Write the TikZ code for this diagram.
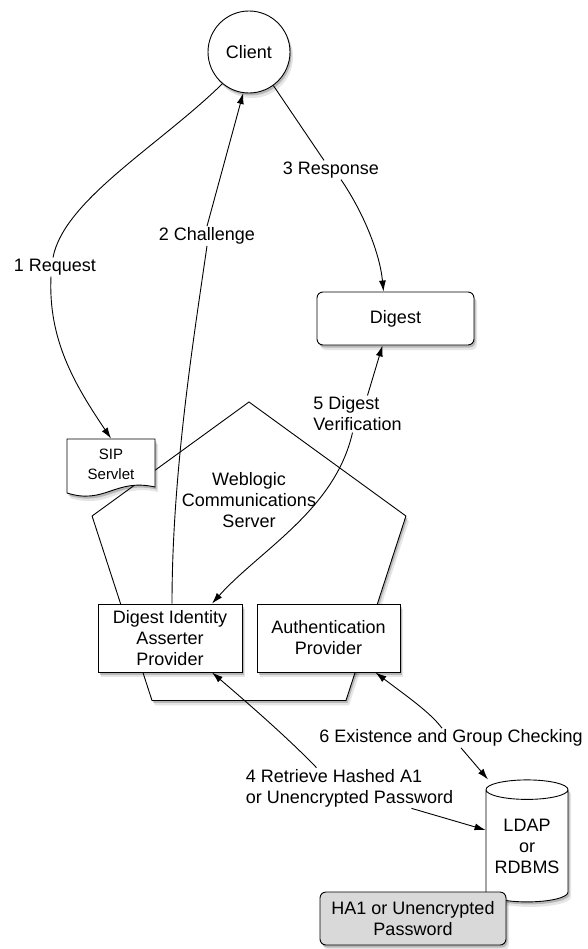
\documentclass[tikz,border=0pt]{standalone}
\usepackage{fontspec}
\setmainfont{Liberation Sans}
\usetikzlibrary{shapes.geometric,shadows,arrows.meta}

\begin{document}
\begin{tikzpicture}[x=1pt,y=-1pt,
    font=\fontsize{18}{21}\selectfont,
    line width=0.9pt,
    >={Latex[length=11pt,width=7pt]},
    dshadow/.style={general shadow={shadow xshift=1.5pt,shadow yshift=-2.5pt,fill=black,opacity=0.2},
                    general shadow={shadow xshift=3pt,shadow yshift=-5pt,fill=black,opacity=0.1}},
    box/.style={draw,fill=white,dshadow,minimum width=144pt,minimum height=68pt,align=center,inner sep=0pt},
    lbl/.style={inner sep=1pt}]
    \useasboundingbox (0,0) rectangle (587,949);

    \node[regular polygon,regular polygon sides=5,minimum size=330pt,draw,fill=white,dshadow,inner sep=0pt] (wlcs) at (249,567) {};
    \node[align=center] (wlcstext) at (249,500) {Weblogic\\Communications\\Server};

    \draw[fill=white,dshadow] (67,439) -- (155,439) -- (155,487) .. controls (115,478) and (105,505) .. (67,493) -- cycle;
    \node[font=\fontsize{15}{20}\selectfont,align=center,minimum width=88pt,minimum height=50pt] (sip) at (111,464) {SIP\\Servlet};

    \node[box] (asserter) at (170,638) {Digest Identity\\Asserter\\Provider};
    \node[box,minimum width=143pt] (authn) at (328.5,638) {Authentication\\Provider};

    \node[circle,draw,fill=white,dshadow,minimum size=82pt,inner sep=0pt] (client) at (249,52) {Client};
    \node[draw,rounded corners=6pt,fill=white,dshadow,minimum width=157pt,minimum height=53pt] (digest) at (395.5,318.5) {Digest};

    \node[cylinder,shape border rotate=90,aspect=0.3,draw,fill=white,dshadow,minimum width=82pt,minimum height=122pt,align=center,inner sep=0pt] (ldap) at (527,846) {LDAP\\or\\RDBMS};
    \node[draw,rounded corners=6pt,fill=gray!30,dshadow,minimum width=186pt,minimum height=53pt,align=center] (ha1) at (413,918.5) {HA1 or Unencrypted\\Password};

    \node[lbl] (req) at (55,267) {1 Request};
    \node[lbl] (chal) at (207,236) {2 Challenge};
    \node[lbl] (resp) at (331,170) {3 Response};
    \node[lbl,align=left] (verif) at (357.5,414) {5 Digest\\Verification};
    \node[lbl,align=left] (retr) at (349.5,788) {4 Retrieve Hashed A1\\or Unencrypted Password};
    \node[lbl] (exist) at (451,738) {6 Existence and Group Checking};

    \draw (client.230) .. controls (160,145) and (64,200) .. ([xshift=-2pt]req.north);
    \draw[->] ([xshift=-4pt]req.south) .. controls (48,340) and (75,385) .. (sip.north);

    \draw ([xshift=2pt]asserter.north) .. controls (172,470) and (195,330) .. (chal.south);
    \draw[->] (chal.north) -- (client.262);

    \draw (client.306) -- ([xshift=-7pt]resp.north);
    \draw[->] ([xshift=10pt]resp.south) .. controls (365,215) and (380,255) .. ([xshift=-12pt]digest.north);

    \draw[<-] ([xshift=-13pt]digest.south) -- ([xshift=10pt]verif.north);
    \draw[->] ([xshift=-5pt]verif.south) .. controls (335,510) and (260,550) .. ([xshift=42pt]asserter.north);

    \draw[<-] ([xshift=42pt]asserter.south) .. controls (250,705) and (290,740) .. ([xshift=-33pt]retr.north);
    \draw[->] ([xshift=62pt]retr.south) -- ([yshift=16pt]ldap.west);

    \draw[<-] ([xshift=47pt]authn.south) .. controls (405,695) and (430,712) .. ([xshift=-9pt]exist.north);
    \draw[->] ([xshift=10pt]exist.south) -- ([xshift=-39pt]ldap.north);
\end{tikzpicture}
\end{document}
